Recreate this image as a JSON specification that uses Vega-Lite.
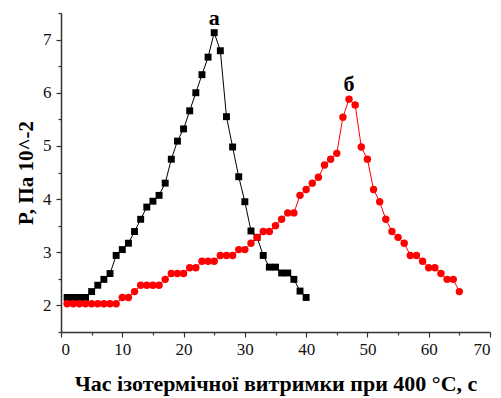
{
  "$schema": "https://vega.github.io/schema/vega-lite/v6.json",
  "width": 429,
  "height": 319,
  "autosize": {"type": "none"},
  "padding": {"left": 61, "top": 13, "right": 11, "bottom": 66},
  "background": "white",
  "config": {
    "view": {"stroke": null},
    "font": "Liberation Serif",
    "axis": {"labelFont": "Liberation Serif", "titleFont": "Liberation Serif"}
  },
  "datasets": {
    "pts": [
      {"t":1,"p":2.15,"s":"а"},{"t":2,"p":2.15,"s":"а"},{"t":3,"p":2.15,"s":"а"},{"t":4,"p":2.15,"s":"а"},
      {"t":5,"p":2.26,"s":"а"},{"t":6,"p":2.38,"s":"а"},{"t":7,"p":2.49,"s":"а"},{"t":8,"p":2.60,"s":"а"},
      {"t":9,"p":2.94,"s":"а"},{"t":10,"p":3.05,"s":"а"},{"t":11,"p":3.17,"s":"а"},{"t":12,"p":3.39,"s":"а"},
      {"t":13,"p":3.62,"s":"а"},{"t":14,"p":3.85,"s":"а"},{"t":15,"p":3.96,"s":"а"},{"t":16,"p":4.07,"s":"а"},
      {"t":17,"p":4.30,"s":"а"},{"t":18,"p":4.75,"s":"а"},{"t":19,"p":5.09,"s":"а"},{"t":20,"p":5.32,"s":"а"},
      {"t":21,"p":5.66,"s":"а"},{"t":22,"p":6.00,"s":"а"},{"t":23,"p":6.34,"s":"а"},{"t":24,"p":6.67,"s":"а"},
      {"t":25,"p":7.13,"s":"а"},{"t":26,"p":6.79,"s":"а"},{"t":27,"p":5.55,"s":"а"},{"t":28,"p":4.98,"s":"а"},
      {"t":29,"p":4.42,"s":"а"},{"t":30,"p":3.95,"s":"а"},{"t":31,"p":3.40,"s":"а"},{"t":32,"p":3.28,"s":"а"},
      {"t":33,"p":2.94,"s":"а"},{"t":34,"p":2.72,"s":"а"},{"t":35,"p":2.72,"s":"а"},{"t":36,"p":2.61,"s":"а"},
      {"t":37,"p":2.61,"s":"а"},{"t":38,"p":2.49,"s":"а"},{"t":39,"p":2.27,"s":"а"},{"t":40,"p":2.15,"s":"а"},
      {"t":1,"p":2.03,"s":"б"},{"t":2,"p":2.03,"s":"б"},{"t":3,"p":2.03,"s":"б"},{"t":4,"p":2.03,"s":"б"},
      {"t":5,"p":2.03,"s":"б"},{"t":6,"p":2.03,"s":"б"},{"t":7,"p":2.03,"s":"б"},{"t":8,"p":2.03,"s":"б"},
      {"t":9,"p":2.03,"s":"б"},{"t":10,"p":2.15,"s":"б"},{"t":11,"p":2.15,"s":"б"},{"t":12,"p":2.26,"s":"б"},
      {"t":13,"p":2.38,"s":"б"},{"t":14,"p":2.38,"s":"б"},{"t":15,"p":2.38,"s":"б"},{"t":16,"p":2.38,"s":"б"},
      {"t":17,"p":2.49,"s":"б"},{"t":18,"p":2.60,"s":"б"},{"t":19,"p":2.60,"s":"б"},{"t":20,"p":2.60,"s":"б"},
      {"t":21,"p":2.71,"s":"б"},{"t":22,"p":2.71,"s":"б"},{"t":23,"p":2.83,"s":"б"},{"t":24,"p":2.83,"s":"б"},
      {"t":25,"p":2.83,"s":"б"},{"t":26,"p":2.94,"s":"б"},{"t":27,"p":2.94,"s":"б"},{"t":28,"p":2.94,"s":"б"},
      {"t":29,"p":3.05,"s":"б"},{"t":30,"p":3.05,"s":"б"},{"t":31,"p":3.17,"s":"б"},{"t":32,"p":3.28,"s":"б"},
      {"t":33,"p":3.39,"s":"б"},{"t":34,"p":3.39,"s":"б"},{"t":35,"p":3.50,"s":"б"},{"t":36,"p":3.62,"s":"б"},
      {"t":37,"p":3.74,"s":"б"},{"t":38,"p":3.74,"s":"б"},{"t":39,"p":4.07,"s":"б"},{"t":40,"p":4.18,"s":"б"},
      {"t":41,"p":4.30,"s":"б"},{"t":42,"p":4.41,"s":"б"},{"t":43,"p":4.64,"s":"б"},{"t":44,"p":4.75,"s":"б"},
      {"t":45,"p":4.86,"s":"б"},{"t":46,"p":5.54,"s":"б"},{"t":47,"p":5.88,"s":"б"},{"t":48,"p":5.77,"s":"б"},
      {"t":49,"p":4.98,"s":"б"},{"t":50,"p":4.75,"s":"б"},{"t":51,"p":4.18,"s":"б"},{"t":52,"p":3.95,"s":"б"},
      {"t":53,"p":3.62,"s":"б"},{"t":54,"p":3.39,"s":"б"},{"t":55,"p":3.28,"s":"б"},{"t":56,"p":3.17,"s":"б"},
      {"t":57,"p":2.94,"s":"б"},{"t":58,"p":2.94,"s":"б"},{"t":59,"p":2.83,"s":"б"},{"t":60,"p":2.71,"s":"б"},
      {"t":61,"p":2.71,"s":"б"},{"t":62,"p":2.60,"s":"б"},{"t":63,"p":2.49,"s":"б"},{"t":64,"p":2.49,"s":"б"},
      {"t":65,"p":2.26,"s":"б"}
    ],
    "labels": [
      {"t":25,"p":7.13,"name":"а"},
      {"t":47,"p":5.88,"name":"б"}
    ]
  },
  "encoding": {
    "x": {
      "field": "t", "type": "quantitative",
      "scale": {"domain": [0, 70], "nice": false, "zero": false},
      "axis": {
        "title": "Час ізотермічної витримки при 400 °C, с",
        "titleFont": "Liberation Serif", "titleFontSize": 22, "titleFontWeight": "bold", "titleColor": "black",
        "titlePadding": 16,
        "values": [0,5,10,15,20,25,30,35,40,45,50,55,60,65,70],
        "labelExpr": "datum.value % 10 === 0 ? format(datum.value, 'd') : ''",
        "labelFont": "Liberation Serif", "labelFontSize": 17, "labelFontWeight": "normal", "labelColor": "#111", "labelPadding": 4,
        "tickSize": {"condition": {"test": "datum.value % 10 === 0", "value": 5}, "value": 3},
        "tickColor": "#333", "tickWidth": 1.2,
        "domainColor": "#333", "domainWidth": 1.5,
        "grid": false
      }
    },
    "y": {
      "field": "p", "type": "quantitative",
      "scale": {"domain": [1.5, 7.5], "nice": false, "zero": false},
      "axis": {
        "title": "P, Па 10^-2",
        "titleFont": "Liberation Serif", "titleFontSize": 21, "titleFontWeight": "bold", "titleColor": "black",
        "titlePadding": 6,
        "values": [1.5,2,2.5,3,3.5,4,4.5,5,5.5,6,6.5,7,7.5],
        "labelExpr": "datum.value % 1 === 0 ? format(datum.value, 'd') : ''",
        "labelFont": "Liberation Serif", "labelFontSize": 17, "labelFontWeight": "normal", "labelColor": "#111", "labelPadding": 5,
        "tickSize": {"condition": {"test": "datum.value % 1 === 0", "value": 5}, "value": 3},
        "tickColor": "#333", "tickWidth": 1.2,
        "domainColor": "#333", "domainWidth": 1.5,
        "grid": false
      }
    }
  },
  "layer": [
    {
      "data": {"name": "pts"},
      "transform": [{"filter": "datum.s === 'а'"}],
      "mark": {"type": "line", "color": "black", "strokeWidth": 1},
      "encoding": {"order": {"field": "t"}}
    },
    {
      "data": {"name": "pts"},
      "transform": [{"filter": "datum.s === 'а'"}],
      "mark": {"type": "point", "shape": "square", "filled": true, "color": "black", "size": 48, "opacity": 1}
    },
    {
      "data": {"name": "pts"},
      "transform": [{"filter": "datum.s === 'б'"}],
      "mark": {"type": "line", "color": "red", "strokeWidth": 1},
      "encoding": {"order": {"field": "t"}}
    },
    {
      "data": {"name": "pts"},
      "transform": [{"filter": "datum.s === 'б'"}],
      "mark": {"type": "point", "shape": "circle", "filled": true, "color": "red", "size": 55, "opacity": 1}
    },
    {
      "data": {"name": "labels"},
      "mark": {"type": "text", "font": "Liberation Serif", "fontSize": 22, "fontWeight": "bold", "color": "black", "baseline": "alphabetic", "dy": -8},
      "encoding": {"text": {"field": "name"}}
    }
  ]
}
